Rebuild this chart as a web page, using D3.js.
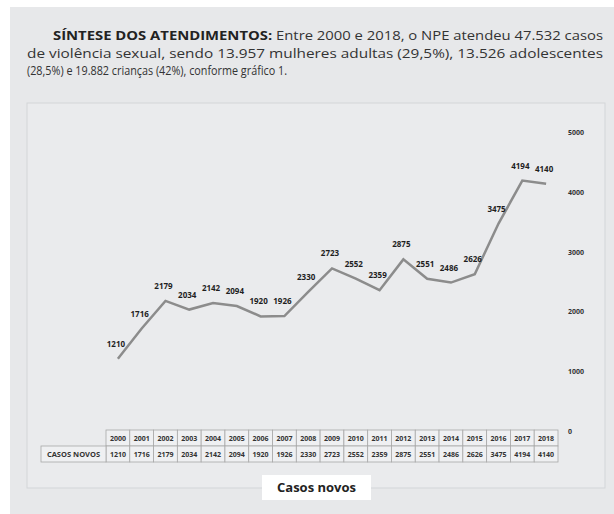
<!DOCTYPE html>
<html>
<head>
<meta charset="utf-8">
<script src="https://cdn.jsdelivr.net/npm/d3@7"></script>
<style>
  body { margin: 0; background: #fff; }
  svg { display: block; font-family: 'Open Sans', sans-serif; }
</style>
</head>
<body>
<svg id="chart" width="614" height="514"></svg>
<script>
// data
const years = ['2000','2001','2002','2003','2004','2005','2006','2007','2008','2009',
               '2010','2011','2012','2013','2014','2015','2016','2017','2018'];
const casosNovos = [1210, 1716, 2179, 2034, 2142, 2094, 1920, 1926, 2330, 2723,
                    2552, 2359, 2875, 2551, 2486, 2626, 3475, 4194, 4140];
const yTicks = [0, 1000, 2000, 3000, 4000, 5000];
const rowLabel = 'CASOS NOVOS';
const seriesName = 'Casos novos';
const introBold = 'SÍNTESE DOS ATENDIMENTOS:';
const introLines = [
  ' Entre 2000 e 2018, o NPE atendeu 47.532 casos',
  'de violência sexual, sendo 13.957 mulheres adultas (29,5%), 13.526 adolescentes',
  '(28,5%) e 19.882 crianças (42%), conforme gráfico 1.'
];

const svg = d3.select('#chart');

// page panel
svg.append('rect')
  .attr('x', 10).attr('y', 7).attr('width', 604).attr('height', 507)
  .attr('fill', '#e7e8ea');

// intro paragraph (justified lines)
const t1 = svg.append('text')
  .attr('x', 53).attr('y', 40)
  .attr('textLength', 550).attr('lengthAdjust', 'spacingAndGlyphs')
  .style('font-size', '12.8px').attr('fill', '#333');
t1.append('tspan').attr('font-weight', 700).attr('fill', '#222').text(introBold);
t1.append('tspan').text(introLines[0]);

svg.append('text')
  .attr('x', 27).attr('y', 57.5)
  .attr('textLength', 576).attr('lengthAdjust', 'spacingAndGlyphs')
  .style('font-size', '12.8px').attr('fill', '#333')
  .text(introLines[1]);

svg.append('text')
  .attr('x', 27).attr('y', 75)
  .attr('textLength', 260).attr('lengthAdjust', 'spacingAndGlyphs')
  .style('font-size', '12.8px').attr('fill', '#333')
  .text(introLines[2]);

// chart box
svg.append('rect')
  .attr('x', 27).attr('y', 103).attr('width', 578).attr('height', 385)
  .attr('fill', '#eaebed')
  .attr('stroke', '#d3d5d8').attr('stroke-width', 1);

// scales
const xScale = d3.scaleBand()
  .domain(years)
  .range([106, 558]);
const yScale = d3.scaleLinear()
  .domain([0, 5000])
  .range([431, 132.5]);

const cx = d => xScale(d) + xScale.bandwidth() / 2;

// right axis
const yAxis = d3.axisRight(yScale)
  .tickValues(yTicks)
  .tickSize(0)
  .tickPadding(2)
  .tickFormat(d3.format('d'));

const yAxisNode = svg.append('g')
  .attr('transform', 'translate(566,0)')
  .call(yAxis);
yAxisNode.select('.domain').remove();
yAxisNode.selectAll('text')
  .style('font-family', "'Open Sans', sans-serif")
  .style('font-size', '7px')
  .style('font-weight', 700)
  .attr('fill', '#333');

// line
const line = d3.line()
  .x((d, i) => cx(years[i]))
  .y(d => yScale(d));

svg.append('path')
  .datum(casosNovos)
  .attr('d', line)
  .attr('fill', 'none')
  .attr('stroke', '#8c8c8c')
  .attr('stroke-width', 2.5)
  .attr('stroke-linejoin', 'miter');

// data labels
svg.append('g')
  .selectAll('text')
  .data(casosNovos)
  .enter()
  .append('text')
  .attr('x', (d, i) => cx(years[i]) - 2)
  .attr('y', d => yScale(d) - 12)
  .attr('text-anchor', 'middle')
  .style('font-size', '8px')
  .style('font-weight', 700)
  .attr('fill', '#1e1e1e')
  .text(d => d);

// data table
const rowTop = 430, rowH = 16;
const table = svg.append('g');
const cellStyle = sel => sel
  .attr('fill', '#eff0f2')
  .attr('stroke', '#a8a8a8')
  .attr('stroke-width', 0.8);

table.selectAll('rect.yr')
  .data(years)
  .enter().append('rect')
  .attr('class', 'yr')
  .attr('x', d => xScale(d)).attr('y', rowTop)
  .attr('width', xScale.bandwidth()).attr('height', rowH)
  .call(cellStyle);

table.selectAll('rect.val')
  .data(casosNovos)
  .enter().append('rect')
  .attr('class', 'val')
  .attr('x', (d, i) => xScale(years[i])).attr('y', rowTop + rowH)
  .attr('width', xScale.bandwidth()).attr('height', rowH)
  .call(cellStyle);

table.append('rect')
  .attr('x', 41).attr('y', rowTop + rowH)
  .attr('width', xScale.range()[0] - 41).attr('height', rowH)
  .call(cellStyle);

table.selectAll('text.yr')
  .data(years)
  .enter().append('text')
  .attr('class', 'yr')
  .attr('x', d => cx(d)).attr('y', rowTop + rowH / 2 + 2.5)
  .attr('text-anchor', 'middle')
  .style('font-size', '7px').style('font-weight', 700)
  .attr('fill', '#333')
  .text(d => d);

table.selectAll('text.val')
  .data(casosNovos)
  .enter().append('text')
  .attr('class', 'val')
  .attr('x', (d, i) => cx(years[i])).attr('y', rowTop + rowH * 1.5 + 2.5)
  .attr('text-anchor', 'middle')
  .style('font-size', '7px').style('font-weight', 700)
  .attr('fill', '#333')
  .text(d => d);

table.append('text')
  .attr('x', (41 + xScale.range()[0]) / 2).attr('y', rowTop + rowH * 1.5 + 2.7)
  .attr('text-anchor', 'middle')
  .style('font-size', '7.5px').style('font-weight', 700)
  .attr('fill', '#333')
  .text(rowLabel);

// legend / caption
svg.append('rect')
  .attr('x', 262).attr('y', 475).attr('width', 109).attr('height', 25)
  .attr('fill', '#fff');
svg.append('text')
  .attr('x', 316.5).attr('y', 492)
  .attr('text-anchor', 'middle')
  .style('font-size', '13px').style('font-weight', 700)
  .attr('fill', '#222')
  .text(seriesName);
</script>
</body>
</html>
